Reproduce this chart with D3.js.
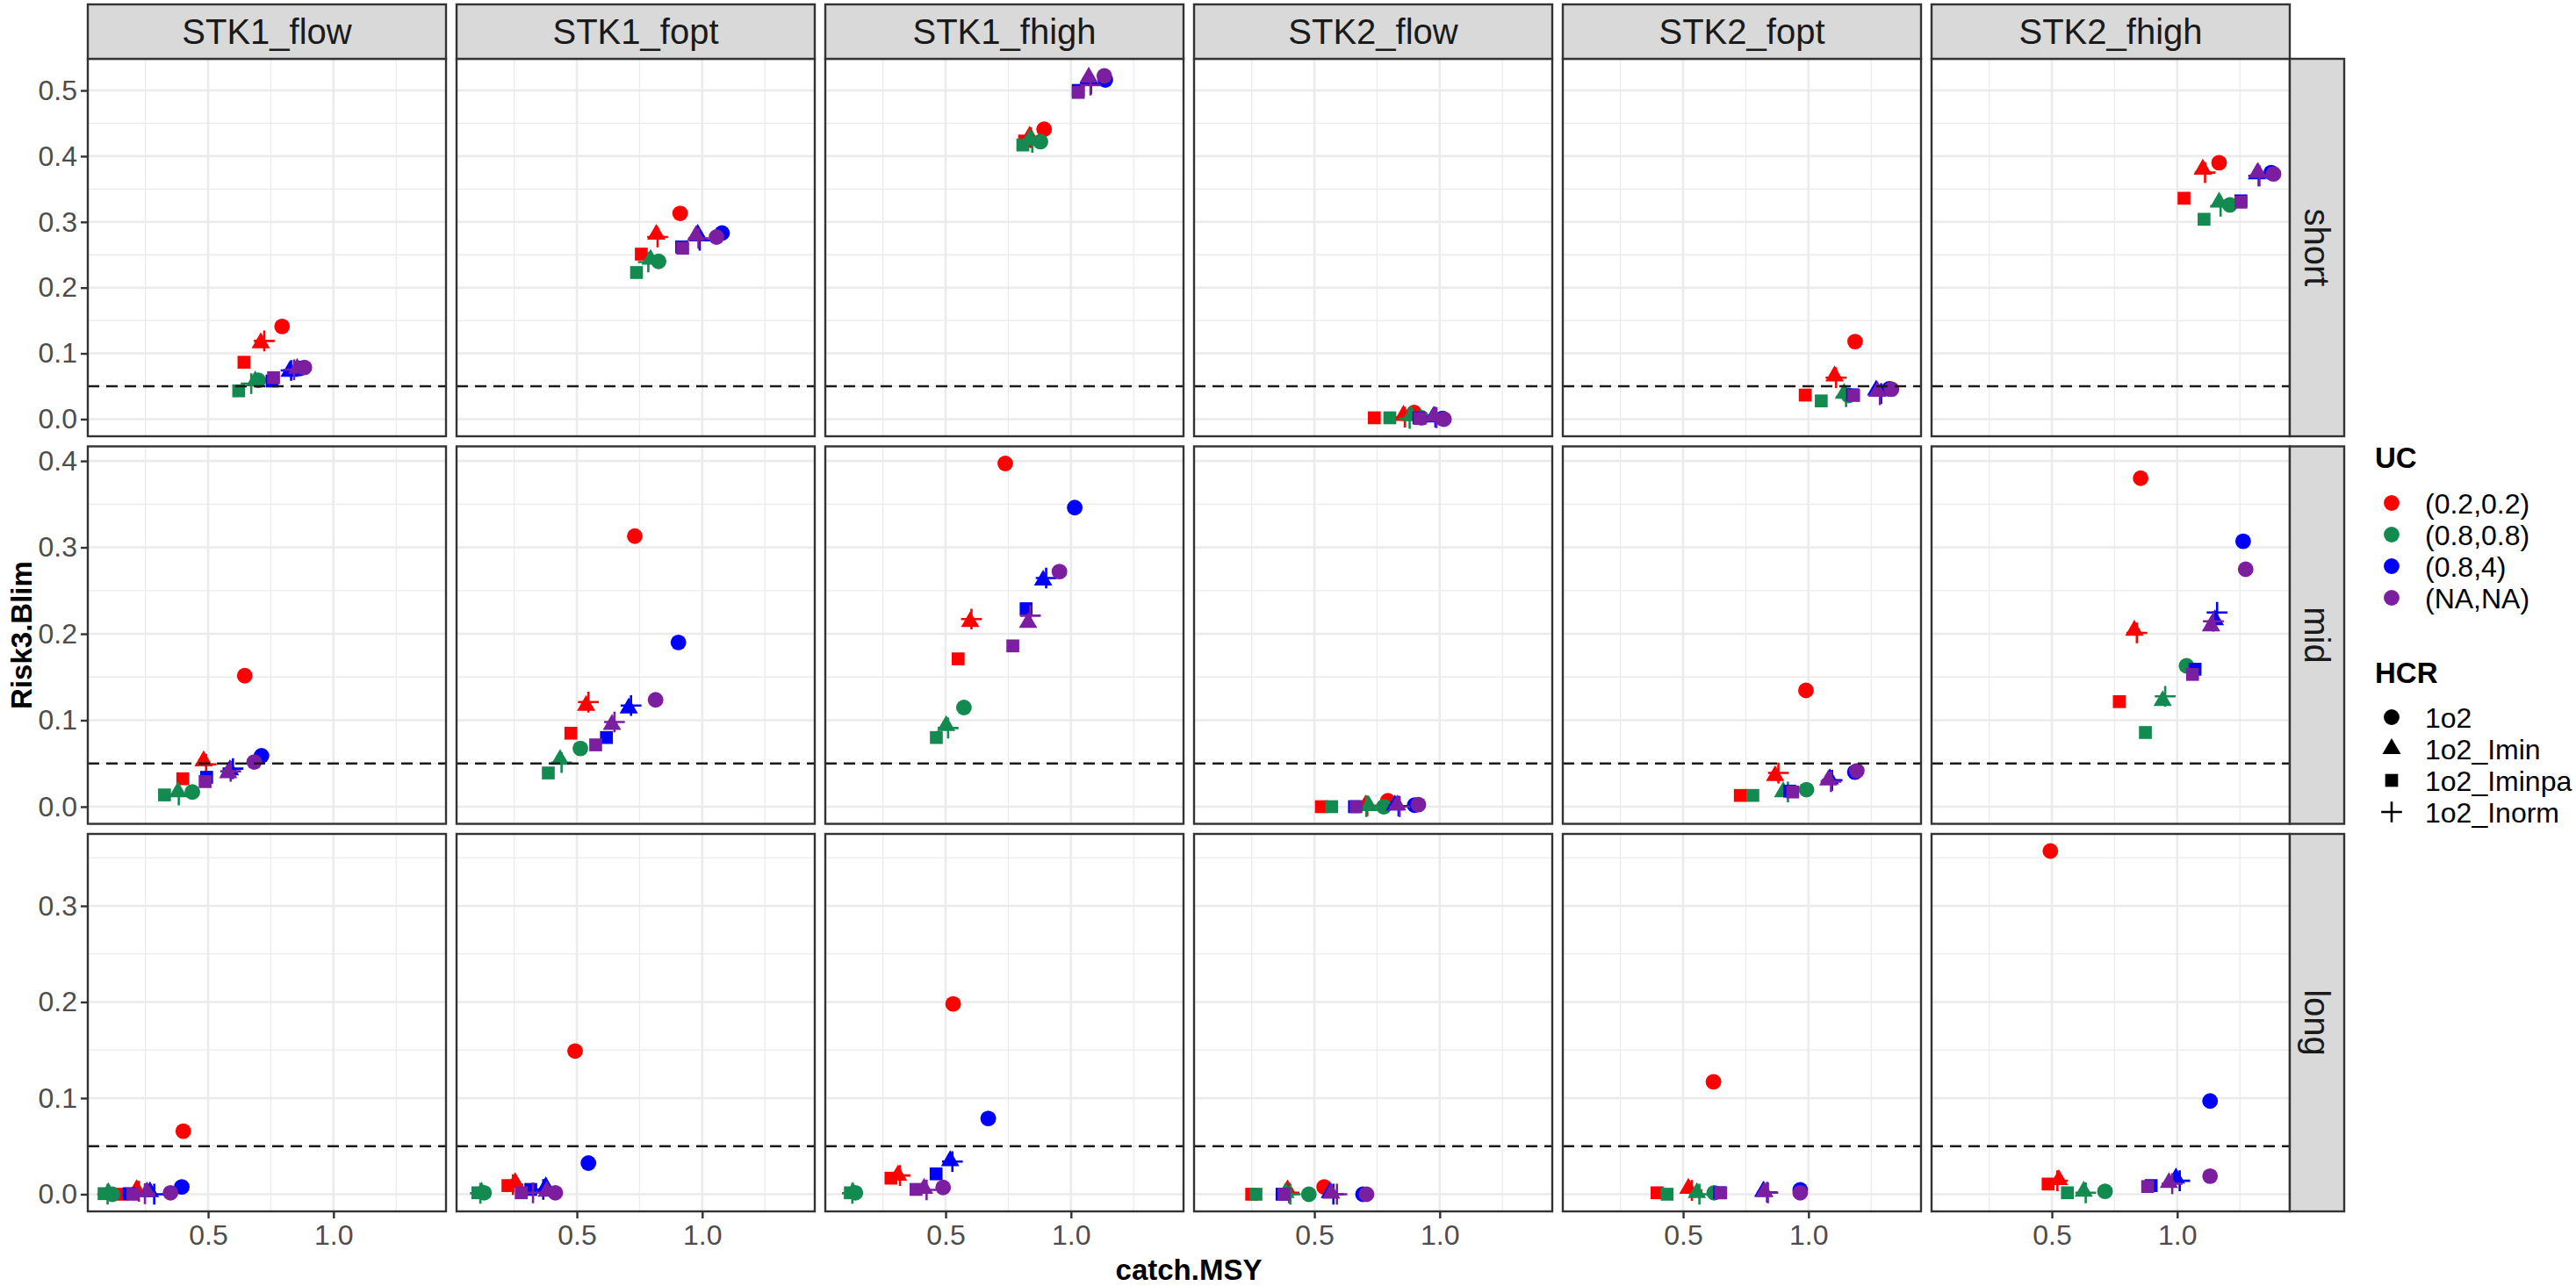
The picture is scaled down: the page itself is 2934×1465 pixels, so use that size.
<!DOCTYPE html>
<html><head><meta charset="utf-8">
<script src="https://cdn.jsdelivr.net/npm/d3@7"></script>
<style>
body{margin:0;background:#fff;}
text{font-family:"Liberation Sans",Arial,Helvetica,sans-serif;}
</style>
</head><body>
<svg id="chart" width="2934" height="1465"></svg>
<script>
// ---------------- data ----------------
const stocks = ["STK1_flow","STK1_fopt","STK1_fhigh","STK2_flow","STK2_fopt","STK2_fhigh"];
const terms = ["short","mid","long"];
const ucLevels = ["(0.2,0.2)","(0.8,0.8)","(0.8,4)","(NA,NA)"];
const hcrLevels = ["1o2","1o2_Imin","1o2_Iminpa","1o2_Inorm"];
const ucColors = ["#FF0000","#138A50","#0000FF","#7B1FA0"];
const xTicks = [0.5, 1.0];
const yTicksByTerm = [[0,0.1,0.2,0.3,0.4,0.5],[0,0.1,0.2,0.3,0.4],[0,0.1,0.2,0.3]];
const blim = 0.05;

// each inner array: 16 values, UC (0.2,0.2),(0.8,0.8),(0.8,4),(NA,NA) x HCR 1o2,Imin,Iminpa,Inorm
const shortCatch = [
 [0.795,0.710,0.643,0.724, 0.700,0.688,0.622,0.672, 0.866,0.825,0.755,0.831, 0.884,0.855,0.761,0.843],
 [0.912,0.817,0.757,0.822, 0.826,0.794,0.738,0.785, 1.079,0.982,0.918,0.990, 1.057,0.975,0.922,0.985],
 [0.893,0.835,0.815,0.840, 0.878,0.835,0.808,0.846, 1.137,1.070,1.029,1.080, 1.133,1.071,1.029,1.078],
 [0.898,0.855,0.739,0.861, 0.927,0.885,0.801,0.880, 1.011,0.974,0.917,0.983, 1.017,0.977,0.921,0.987],
 [1.186,1.104,0.987,1.110, 1.160,1.142,1.051,1.150, 1.322,1.270,1.176,1.290, 1.331,1.275,1.180,1.285],
 [1.167,1.102,1.027,1.111, 1.210,1.167,1.107,1.173, 1.375,1.318,1.254,1.325, 1.384,1.322,1.254,1.328]
];
const shortRisk = [
 [0.141,0.116,0.0865,0.119, 0.059,0.058,0.043,0.054, 0.077,0.0726,0.058,0.074, 0.0785,0.077,0.063,0.075],
 [0.313,0.281,0.251,0.277, 0.240,0.243,0.223,0.239, 0.283,0.281,0.262,0.272, 0.277,0.279,0.260,0.275],
 [0.441,0.430,0.423,0.428, 0.422,0.425,0.417,0.421, 0.516,0.518,0.500,0.510, 0.522,0.520,0.497,0.508],
 [0.010,0.0055,0.002,0.003, 0.002,0.005,0.002,0.001, 0.001,0.003,0.002,0.003, 0.000,0.004,0.001,0.002],
 [0.118,0.0656,0.0366,0.063, 0.036,0.039,0.0277,0.034, 0.046,0.044,0.037,0.039, 0.0455,0.042,0.036,0.037],
 [0.390,0.380,0.336,0.375, 0.326,0.330,0.304,0.324, 0.375,0.373,0.332,0.370, 0.373,0.375,0.330,0.370]
];
const midCatch = [
 [0.646,0.482,0.399,0.492, 0.437,0.380,0.326,0.383, 0.713,0.587,0.494,0.599, 0.684,0.580,0.488,0.590],
 [0.731,0.537,0.476,0.546, 0.514,0.433,0.386,0.439, 0.905,0.707,0.618,0.716, 0.814,0.640,0.575,0.650],
 [0.738,0.598,0.550,0.603, 0.573,0.502,0.463,0.510, 1.015,0.889,0.821,0.901, 0.954,0.829,0.768,0.838],
 [0.793,0.704,0.528,0.711, 0.777,0.717,0.569,0.707, 0.900,0.821,0.660,0.836, 0.915,0.830,0.666,0.840],
 [0.990,0.867,0.728,0.880, 0.992,0.899,0.778,0.918, 1.185,1.085,0.925,1.094, 1.193,1.079,0.937,1.090],
 [0.854,0.829,0.769,0.839, 1.037,0.942,0.873,0.952, 1.263,1.150,1.071,1.159, 1.273,1.135,1.061,1.144]
];
const midRisk = [
 [0.1515,0.0528,0.0323,0.049, 0.017,0.017,0.0136,0.0136, 0.0589,0.0425,0.034,0.044, 0.0517,0.039,0.029,0.041],
 [0.313,0.117,0.085,0.121, 0.0674,0.0545,0.039,0.051, 0.190,0.114,0.080,0.117, 0.1236,0.095,0.0715,0.098],
 [0.397,0.214,0.171,0.217, 0.1147,0.0936,0.080,0.091, 0.346,0.262,0.229,0.2645, 0.272,0.213,0.186,0.221],
 [0.0068,0.0017,0.0,0.001, 0.0,0.001,0.0,0.0, 0.0017,0.0017,0.0,0.0007, 0.0024,0.0017,0.0,0.0],
 [0.1345,0.0357,0.013,0.039, 0.0197,0.017,0.013,0.017, 0.040,0.032,0.018,0.0306, 0.0415,0.0306,0.017,0.029],
 [0.380,0.204,0.1215,0.201, 0.163,0.1226,0.0858,0.1277, 0.307,0.216,0.159,0.2247, 0.2747,0.209,0.153,0.2145]
];
const longCatch = [
 [0.401,0.215,0.156,0.224, 0.118,0.102,0.085,0.099, 0.395,0.268,0.185,0.285, 0.350,0.256,0.200,0.248],
 [0.493,0.254,0.225,0.245, 0.130,0.120,0.105,0.115, 0.546,0.376,0.316,0.366, 0.414,0.380,0.278,0.325],
 [0.530,0.310,0.282,0.318, 0.140,0.130,0.120,0.128, 0.670,0.518,0.462,0.527, 0.490,0.414,0.382,0.424],
 [0.539,0.393,0.250,0.399, 0.478,0.385,0.267,0.404, 0.694,0.562,0.371,0.576, 0.708,0.567,0.379,0.590],
 [0.621,0.521,0.396,0.535, 0.624,0.555,0.436,0.565, 0.967,0.820,0.645,0.835, 0.967,0.824,0.650,0.838],
 [0.494,0.528,0.485,0.522, 0.712,0.627,0.562,0.635, 1.131,0.995,0.896,1.010, 1.131,0.967,0.882,0.980]
];
const longRisk = [
 [0.0656,0.0046,0.0,0.003, 0.0,0.0015,0.0006,0.0, 0.0076,0.0024,0.0006,0.0, 0.0015,0.0024,0.0,0.0006],
 [0.149,0.012,0.009,0.010, 0.0015,0.002,0.0015,0.001, 0.0324,0.0076,0.005,0.005, 0.0015,0.003,0.0015,0.0015],
 [0.198,0.0197,0.0167,0.0195, 0.0015,0.002,0.0015,0.001, 0.0788,0.0348,0.0212,0.034, 0.007,0.006,0.005,0.0045],
 [0.0076,0.0045,0.0,0.0015, 0.0,0.0015,0.0,0.0, 0.0,0.0015,0.0,0.0, 0.0,0.001,0.0,0.0],
 [0.117,0.006,0.0015,0.004, 0.0015,0.0015,0.0,0.0, 0.0045,0.003,0.0015,0.002, 0.0015,0.0024,0.0015,0.0015],
 [0.357,0.015,0.0106,0.014, 0.003,0.003,0.0015,0.0015, 0.097,0.0167,0.009,0.014, 0.0188,0.012,0.008,0.011]
];

// ---------------- build records ----------------
const catchByTerm = [shortCatch, midCatch, longCatch];
const riskByTerm = [shortRisk, midRisk, longRisk];
const records = [];
terms.forEach((t, ti) => stocks.forEach((s, si) => {
  ucLevels.forEach((u, ui) => hcrLevels.forEach((h, hi) => {
    const k = ui * 4 + hi;
    records.push({term: ti, stock: si, uc: ui, hcr: hi,
      x: catchByTerm[ti][si][k], y: riskByTerm[ti][si][k]});
  }));
}));

// ---------------- layout ----------------
const W = 2934, H = 1465;
const left0 = 100, pitchX = 420, panelW = 408;
const top0 = 67, pitchY = 441.5, panelH = 430;
const stripH = 62, stripW = 62;
const fontFam = '"Liberation Sans",Arial,Helvetica,sans-serif';
const borderCol = "#333333", gridCol = "#EBEBEB";

const svg = d3.select("#chart");
svg.append("rect").attr("width", W).attr("height", H).attr("fill", "#fff");

function expand(ext) { const d = ext[1] - ext[0]; return [ext[0] - 0.05 * d, ext[1] + 0.05 * d]; }
const x = d3.scaleLinear().domain(expand(d3.extent(records, d => d.x))).range([0, panelW]);
const yScales = terms.map((t, ti) => d3.scaleLinear()
  .domain(expand(d3.extent(records.filter(r => r.term === ti), d => d.y)))
  .range([panelH, 0]));

function minorOf(majors, domain) {
  const step = majors[1] - majors[0];
  const out = [];
  for (let v = majors[0] - step / 2; v <= majors[majors.length - 1] + step / 2 + 1e-9; v += step) {
    if (v >= domain[0] && v <= domain[1]) out.push(+v.toFixed(6));
  }
  return out;
}
const xMinor = minorOf(xTicks, x.domain());

// plus symbol (stroked)
const plusSym = { draw(ctx, size) { const r = Math.sqrt(size) / 2; ctx.moveTo(-r, 0); ctx.lineTo(r, 0); ctx.moveTo(0, -r); ctx.lineTo(0, r); } };
const shapeTypes = [d3.symbolCircle, d3.symbolTriangle, d3.symbolSquare, plusSym];
const shapeSizes = [250, 190, 215, 560];
function symPath(hi) { return d3.symbol().type(shapeTypes[hi]).size(shapeSizes[hi])(); }
function styleSym(sel, hi, color) {
  if (hi === 3) sel.attr("fill", "none").attr("stroke", color).attr("stroke-width", 2.6);
  else sel.attr("fill", color).attr("stroke", "none");
}

terms.forEach((t, ti) => {
  const y = yScales[ti];
  const yMajor = yTicksByTerm[ti];
  const yMinor = minorOf(yMajor, y.domain());
  stocks.forEach((s, si) => {
    const px = left0 + si * pitchX, py = top0 + ti * pitchY;
    const g = svg.append("g").attr("transform", `translate(${px},${py})`);
    g.append("rect").attr("width", panelW).attr("height", panelH).attr("fill", "#fff");
    // minor grid
    g.selectAll(".mx").data(xMinor).join("line")
      .attr("x1", d => x(d)).attr("x2", d => x(d)).attr("y1", 0).attr("y2", panelH)
      .attr("stroke", gridCol).attr("stroke-width", 1.3);
    g.selectAll(".my").data(yMinor).join("line")
      .attr("y1", d => y(d)).attr("y2", d => y(d)).attr("x1", 0).attr("x2", panelW)
      .attr("stroke", gridCol).attr("stroke-width", 1.3);
    // major grid
    g.selectAll(".Mx").data(xTicks).join("line")
      .attr("x1", d => x(d)).attr("x2", d => x(d)).attr("y1", 0).attr("y2", panelH)
      .attr("stroke", gridCol).attr("stroke-width", 2.6);
    g.selectAll(".My").data(yMajor).join("line")
      .attr("y1", d => y(d)).attr("y2", d => y(d)).attr("x1", 0).attr("x2", panelW)
      .attr("stroke", gridCol).attr("stroke-width", 2.6);
    // points
    const pts = records.filter(r => r.term === ti && r.stock === si);
    pts.forEach(r => {
      const p = g.append("path").attr("d", symPath(r.hcr))
        .attr("transform", `translate(${x(r.x)},${y(r.y)})`);
      styleSym(p, r.hcr, ucColors[r.uc]);
    });
    // Blim line
    g.append("line").attr("x1", 0).attr("x2", panelW).attr("y1", y(blim)).attr("y2", y(blim))
      .attr("stroke", "#1a1a1a").attr("stroke-width", 2.6).attr("stroke-dasharray", "13,8");
    // border
    g.append("rect").attr("width", panelW).attr("height", panelH)
      .attr("fill", "none").attr("stroke", borderCol).attr("stroke-width", 2.4);

    // y axis on left column
    if (si === 0) {
      const ax = g.append("g").call(d3.axisLeft(y).tickValues(yMajor).tickFormat(d3.format(".1f")).tickSize(8).tickPadding(4));
      ax.select(".domain").remove();
      ax.selectAll("line").attr("stroke", borderCol).attr("stroke-width", 2.4);
      ax.selectAll("text").attr("fill", "#4D4D4D").style("font-size", "32px").style("font-family", fontFam);
    }
    // x axis on bottom row
    if (ti === terms.length - 1) {
      const ax = g.append("g").attr("transform", `translate(0,${panelH})`)
        .call(d3.axisBottom(x).tickValues(xTicks).tickFormat(d3.format(".1f")).tickSize(8).tickPadding(7));
      ax.select(".domain").remove();
      ax.selectAll("line").attr("stroke", borderCol).attr("stroke-width", 2.4);
      ax.selectAll("text").attr("fill", "#4D4D4D").style("font-size", "32px").style("font-family", fontFam);
    }
    // top strips
    if (ti === 0) {
      const sg = svg.append("g").attr("transform", `translate(${px},${top0 - stripH})`);
      sg.append("rect").attr("width", panelW).attr("height", stripH)
        .attr("fill", "#D9D9D9").attr("stroke", borderCol).attr("stroke-width", 2.4);
      sg.append("text").attr("x", panelW / 2).attr("y", stripH / 2).attr("dy", "0.36em")
        .attr("text-anchor", "middle").attr("fill", "#1A1A1A").style("font-size", "40px").text(s);
    }
    // right strips
    if (si === stocks.length - 1) {
      const sg = svg.append("g").attr("transform", `translate(${px + panelW},${py})`);
      sg.append("rect").attr("width", stripW).attr("height", panelH)
        .attr("fill", "#D9D9D9").attr("stroke", borderCol).attr("stroke-width", 2.4);
      sg.append("text").attr("transform", `translate(${stripW / 2},${panelH / 2}) rotate(90)`)
        .attr("dy", "0.36em").attr("text-anchor", "middle").attr("fill", "#1A1A1A")
        .style("font-size", "40px").text(t);
    }
  });
});

// axis titles
const plotL = left0, plotR = left0 + (stocks.length - 1) * pitchX + panelW;
const plotT = top0, plotB = top0 + (terms.length - 1) * pitchY + panelH;
svg.append("text").attr("x", (plotL + plotR) / 2).attr("y", 1458).attr("text-anchor", "middle")
  .attr("fill", "#000").style("font-size", "33px").style("font-weight", "bold").text("catch.MSY");
svg.append("text").attr("transform", `translate(36,${(plotT + plotB) / 2}) rotate(-90)`)
  .attr("text-anchor", "middle").attr("fill", "#000").style("font-size", "33px").style("font-weight", "bold").text("Risk3.Blim");

// legends
const lg = svg.append("g");
const legX = 2705, keyX = 2724, labX = 2762, keyStep = 36;
lg.append("text").attr("x", legX).attr("y", 533).style("font-size", "33px").style("font-weight", "bold").text("UC");
ucLevels.forEach((u, i) => {
  const yy = 573 + i * keyStep;
  lg.append("path").attr("d", symPath(0)).attr("transform", `translate(${keyX},${yy})`).attr("fill", ucColors[i]);
  lg.append("text").attr("x", labX).attr("y", yy).attr("dy", "0.36em").attr("fill", "#000").style("font-size", "32px").text(u);
});
lg.append("text").attr("x", legX).attr("y", 778).style("font-size", "33px").style("font-weight", "bold").text("HCR");
hcrLevels.forEach((h, i) => {
  const yy = 817 + i * keyStep;
  const p = lg.append("path").attr("d", symPath(i)).attr("transform", `translate(${keyX},${yy})`);
  styleSym(p, i, "#000");
  lg.append("text").attr("x", labX).attr("y", yy).attr("dy", "0.36em").attr("fill", "#000").style("font-size", "32px").text(h);
});
</script>
</body></html>
